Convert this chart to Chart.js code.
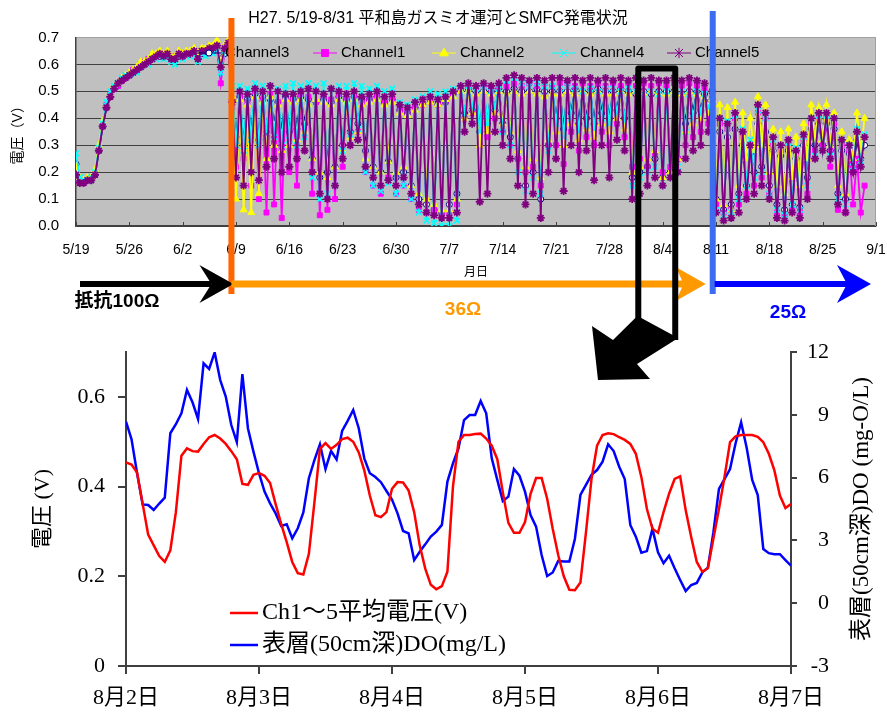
<!DOCTYPE html>
<html><head><meta charset="utf-8">
<script src="https://cdn.jsdelivr.net/npm/chart.js@4.4.1/dist/chart.umd.min.js"></script>
<style>
html,body{margin:0;padding:0;background:#fff;}
#wrap{position:relative;width:887px;height:715px;overflow:hidden;background:#fff;}
#topChart{position:absolute;left:0;top:0;z-index:2;pointer-events:none;}
#botChart{position:absolute;left:0;top:320px;z-index:1;}
</style></head>
<body><div id="wrap">
<canvas id="botChart" width="887" height="395"></canvas>
<canvas id="topChart" width="887" height="400"></canvas>
</div>
<script>
// ---------- TOP CHART DATA (2 samples per day, from 5/19) ----------
const topTitle = 'H27. 5/19-8/31 平和島ガスミオ運河とSMFC発電状況';
const topTickLabels = ['5/19','5/26','6/2','6/9','6/16','6/23','6/30','7/7','7/14','7/21','7/28','8/4','8/11','8/18','8/25','9/1'];
const samplesPerDay = 2;
const ch3 = [
0.23,0.17,0.17,0.17,0.17,0.19,0.28,0.37,0.44,0.48,0.51,0.52,0.54,0.55,
0.56,0.57,0.58,0.59,0.60,0.61,0.62,0.63,0.63,0.63,0.64,0.62,0.62,0.63,
0.63,0.64,0.64,0.65,0.62,0.64,0.65,0.65,0.65,0.66,0.62,0.64,0.66,0.47,
0.33,0.48,0.30,0.47,0.35,0.49,0.32,0.48,0.36,0.47,0.38,0.46,0.35,0.48,
0.35,0.47,0.36,0.48,0.38,0.47,0.25,0.46,0.18,0.47,0.20,0.46,0.22,0.48,
0.30,0.47,0.35,0.48,0.38,0.47,0.28,0.47,0.22,0.48,0.20,0.46,0.24,0.47,
0.18,0.43,0.20,0.42,0.15,0.44,0.10,0.45,0.08,0.46,0.06,0.45,0.05,0.46,
0.08,0.49,0.12,0.50,0.42,0.51,0.43,0.50,0.35,0.50,0.38,0.50,0.43,0.51,
0.38,0.50,0.33,0.51,0.25,0.50,0.15,0.50,0.20,0.51,0.10,0.50,0.30,0.50,
0.40,0.50,0.36,0.50,0.42,0.51,0.38,0.50,0.40,0.50,0.38,0.51,0.42,0.50,
0.40,0.50,0.43,0.51,0.40,0.50,0.18,0.49,0.20,0.50,0.22,0.49,0.25,0.50,
0.18,0.50,0.20,0.50,0.25,0.49,0.38,0.50,0.42,0.50,0.43,0.49,0.45,0.47,
0.10,0.35,0.06,0.33,0.08,0.36,0.12,0.30,0.15,0.27,0.20,0.38,0.22,0.35,
0.15,0.28,0.08,0.26,0.06,0.28,0.08,0.25,0.07,0.30,0.18,0.36,0.30,0.38,
0.30,0.38,0.28,0.36,0.12,0.28,0.10,0.27,0.22,0.32,0.25,0.30];
const ch1 = [
0.18,0.17,0.16,0.17,0.18,0.20,0.29,0.38,0.45,0.49,0.51,0.52,0.54,0.55,
0.56,0.58,0.58,0.60,0.61,0.62,0.63,0.63,0.64,0.64,0.63,0.63,0.62,0.64,
0.63,0.64,0.64,0.65,0.63,0.65,0.64,0.66,0.66,0.66,0.53,0.65,0.67,0.44,
0.22,0.48,0.25,0.46,0.15,0.50,0.10,0.47,0.05,0.49,0.08,0.46,0.03,0.47,
0.20,0.47,0.15,0.49,0.28,0.48,0.12,0.46,0.04,0.48,0.06,0.47,0.10,0.49,
0.22,0.47,0.30,0.48,0.35,0.46,0.20,0.47,0.15,0.48,0.12,0.46,0.18,0.47,
0.12,0.43,0.15,0.42,0.10,0.44,0.06,0.45,0.05,0.46,0.06,0.45,0.04,0.46,
0.05,0.49,0.08,0.51,0.40,0.52,0.42,0.51,0.30,0.52,0.33,0.51,0.40,0.52,
0.35,0.52,0.30,0.53,0.25,0.52,0.20,0.53,0.22,0.52,0.15,0.53,0.30,0.52,
0.30,0.53,0.23,0.53,0.35,0.52,0.28,0.53,0.33,0.52,0.30,0.53,0.35,0.52,
0.30,0.53,0.38,0.52,0.33,0.53,0.22,0.52,0.25,0.53,0.22,0.52,0.27,0.53,
0.20,0.52,0.22,0.53,0.25,0.52,0.30,0.53,0.33,0.52,0.35,0.51,0.38,0.48,
0.08,0.38,0.05,0.36,0.06,0.40,0.08,0.33,0.12,0.28,0.15,0.42,0.18,0.40,
0.12,0.30,0.05,0.28,0.04,0.30,0.06,0.27,0.05,0.32,0.12,0.38,0.28,0.40,
0.30,0.40,0.22,0.38,0.06,0.30,0.05,0.28,0.08,0.25,0.05,0.15];
const ch2 = [
0.22,0.18,0.17,0.18,0.18,0.21,0.30,0.39,0.45,0.49,0.52,0.53,0.55,0.56,
0.57,0.58,0.59,0.61,0.61,0.62,0.64,0.64,0.65,0.64,0.65,0.63,0.63,0.65,
0.64,0.65,0.65,0.66,0.64,0.66,0.66,0.67,0.67,0.69,0.60,0.67,0.69,0.48,
0.10,0.47,0.06,0.45,0.05,0.48,0.12,0.46,0.25,0.48,0.30,0.45,0.28,0.47,
0.30,0.46,0.32,0.47,0.35,0.45,0.25,0.47,0.20,0.46,0.18,0.45,0.22,0.47,
0.28,0.46,0.33,0.47,0.35,0.45,0.25,0.46,0.22,0.47,0.20,0.45,0.24,0.46,
0.20,0.42,0.22,0.41,0.15,0.43,0.12,0.45,0.10,0.46,0.08,0.45,0.06,0.47,
0.06,0.48,0.10,0.50,0.40,0.50,0.42,0.49,0.30,0.50,0.35,0.49,0.42,0.50,
0.38,0.49,0.35,0.50,0.28,0.49,0.22,0.50,0.25,0.49,0.18,0.48,0.32,0.49,
0.35,0.49,0.30,0.50,0.38,0.49,0.32,0.50,0.36,0.49,0.33,0.50,0.38,0.49,
0.35,0.49,0.40,0.50,0.36,0.49,0.20,0.50,0.22,0.49,0.25,0.50,0.28,0.49,
0.18,0.49,0.20,0.50,0.25,0.49,0.35,0.50,0.38,0.49,0.40,0.48,0.42,0.47,
0.10,0.45,0.08,0.44,0.06,0.46,0.15,0.42,0.25,0.40,0.28,0.48,0.30,0.45,
0.20,0.36,0.15,0.35,0.12,0.36,0.18,0.33,0.15,0.38,0.25,0.45,0.32,0.44,
0.32,0.45,0.30,0.42,0.15,0.35,0.12,0.32,0.25,0.42,0.28,0.40];
const ch4 = [
0.27,0.18,0.17,0.17,0.18,0.20,0.29,0.38,0.46,0.50,0.52,0.53,0.55,0.56,
0.56,0.57,0.57,0.59,0.60,0.60,0.62,0.62,0.63,0.62,0.63,0.61,0.60,0.63,
0.62,0.63,0.63,0.64,0.61,0.64,0.63,0.65,0.64,0.66,0.57,0.65,0.67,0.52,
0.30,0.52,0.28,0.51,0.32,0.53,0.30,0.52,0.35,0.52,0.33,0.51,0.30,0.52,
0.32,0.53,0.30,0.52,0.33,0.53,0.18,0.52,0.10,0.53,0.12,0.51,0.15,0.52,
0.28,0.52,0.34,0.53,0.36,0.52,0.20,0.51,0.15,0.52,0.13,0.50,0.16,0.51,
0.12,0.46,0.15,0.45,0.10,0.47,0.05,0.48,0.02,0.50,0.01,0.49,0.00,0.50,
0.00,0.51,0.02,0.52,0.42,0.52,0.44,0.51,0.35,0.52,0.38,0.50,0.44,0.51,
0.35,0.54,0.30,0.55,0.20,0.53,0.13,0.52,0.18,0.53,0.12,0.52,0.28,0.52,
0.38,0.51,0.33,0.52,0.40,0.51,0.35,0.50,0.38,0.51,0.36,0.50,0.40,0.51,
0.38,0.51,0.42,0.50,0.40,0.51,0.15,0.50,0.18,0.49,0.20,0.50,0.22,0.49,
0.15,0.50,0.18,0.49,0.22,0.50,0.35,0.49,0.40,0.50,0.42,0.49,0.44,0.48,
0.06,0.40,0.04,0.39,0.05,0.41,0.10,0.36,0.15,0.32,0.18,0.43,0.20,0.40,
0.12,0.32,0.06,0.30,0.04,0.31,0.08,0.29,0.06,0.33,0.15,0.40,0.26,0.41,
0.28,0.41,0.26,0.40,0.10,0.32,0.08,0.30,0.22,0.36,0.24,0.34];
const ch5 = [
0.19,0.16,0.16,0.17,0.17,0.19,0.28,0.37,0.44,0.48,0.51,0.53,0.54,0.55,
0.56,0.57,0.58,0.59,0.60,0.61,0.62,0.63,0.64,0.63,0.64,0.62,0.62,0.64,
0.63,0.64,0.64,0.65,0.62,0.65,0.65,0.66,0.66,0.67,0.59,0.66,0.68,0.46,
0.18,0.50,0.15,0.49,0.20,0.51,0.17,0.50,0.22,0.52,0.25,0.50,0.20,0.49,
0.22,0.49,0.25,0.50,0.28,0.51,0.20,0.50,0.12,0.49,0.10,0.51,0.15,0.50,
0.25,0.49,0.30,0.50,0.32,0.48,0.22,0.49,0.18,0.50,0.15,0.48,0.17,0.49,
0.15,0.45,0.18,0.44,0.12,0.46,0.08,0.47,0.05,0.48,0.04,0.47,0.03,0.48,
0.03,0.50,0.05,0.52,0.35,0.53,0.38,0.52,0.09,0.53,0.12,0.52,0.35,0.53,
0.30,0.55,0.25,0.56,0.15,0.55,0.08,0.54,0.12,0.55,0.03,0.54,0.20,0.55,
0.25,0.55,0.13,0.54,0.30,0.55,0.20,0.54,0.28,0.55,0.17,0.54,0.30,0.55,
0.18,0.54,0.32,0.55,0.28,0.54,0.10,0.55,0.12,0.54,0.15,0.55,0.18,0.54,
0.15,0.54,0.18,0.55,0.20,0.54,0.25,0.55,0.28,0.54,0.30,0.53,0.35,0.50,
0.05,0.40,0.02,0.38,0.03,0.42,0.05,0.35,0.10,0.30,0.12,0.45,0.15,0.42,
0.10,0.33,0.03,0.30,0.02,0.32,0.05,0.28,0.03,0.34,0.10,0.40,0.25,0.42,
0.28,0.42,0.25,0.40,0.08,0.32,0.05,0.30,0.20,0.35,0.22,0.33];
// resistance changes (days after 5/19) and the zoomed window (days)
const resistanceChangeDays = [20.4, 83.57];
const resistanceLabels = ['抵抗100Ω', '36Ω', '25Ω'];
const zoomWindowDays = [73.8, 78.65];

// ---------- BOTTOM CHART DATA (hourly, 8/2 0:00 - 8/7 0:00) ----------
const botTickLabels = ['8月2日','8月3日','8月4日','8月5日','8月6日','8月7日'];
const avgVoltage = [
0.454,0.449,0.431,0.362,0.293,0.269,0.245,0.232,0.258,0.343,0.469,0.485,
0.479,0.478,0.495,0.510,0.515,0.507,0.495,0.479,0.461,0.406,0.404,0.426,
0.430,0.424,0.408,0.361,0.317,0.276,0.232,0.207,0.204,0.250,0.365,0.484,
0.497,0.484,0.493,0.506,0.509,0.500,0.476,0.436,0.380,0.336,0.332,0.343,
0.395,0.410,0.409,0.391,0.343,0.269,0.217,0.181,0.171,0.178,0.210,0.400,
0.500,0.515,0.515,0.517,0.518,0.507,0.491,0.461,0.387,0.319,0.297,0.297,
0.321,0.384,0.419,0.419,0.373,0.306,0.247,0.200,0.170,0.169,0.186,0.298,
0.417,0.491,0.515,0.519,0.517,0.510,0.504,0.495,0.473,0.421,0.350,0.306,
0.297,0.343,0.384,0.417,0.423,0.347,0.287,0.232,0.210,0.218,0.284,0.350,
0.421,0.499,0.512,0.515,0.515,0.515,0.511,0.499,0.473,0.436,0.380,0.352,
0.361];
const surfaceDO = [
8.67,7.83,6.21,4.72,4.69,4.45,4.76,5.04,8.12,8.55,9.07,10.19,
9.60,8.80,11.46,11.19,11.98,10.66,9.87,8.51,7.69,10.94,8.36,7.24,
6.21,5.33,4.77,4.29,3.69,3.77,3.10,3.58,4.34,5.97,6.84,7.59,
6.41,7.27,6.87,8.23,8.71,9.23,8.36,6.92,6.21,6.03,5.78,5.36,
4.95,4.29,3.45,3.34,2.06,2.46,2.81,3.18,3.42,3.74,5.81,6.68,
7.40,8.75,8.99,8.99,9.66,9.07,6.92,5.89,4.88,5.09,6.41,6.09,
5.33,4.21,3.66,2.30,1.30,1.47,2.02,1.99,1.99,3.07,5.17,5.65,
6.13,6.36,6.76,7.59,7.27,6.52,5.93,3.74,3.18,2.41,2.49,3.55,
2.43,1.91,2.27,1.67,1.11,0.58,0.87,0.97,1.47,1.70,3.39,5.46,
5.93,6.41,7.64,8.64,7.43,5.89,5.17,2.59,2.39,2.34,2.34,2.06,
1.79];
const botSeriesNames = ['Ch1～5平均電圧(V)', '表層(50cm深)DO(mg/L)'];
const botLeftTitle = '電圧 (V)';
const botRightTitle = '表層(50cm深)DO (mg-O/L)';

// ---------- helpers ----------
const SANS = "'Liberation Sans', Arial, 'Noto Sans CJK JP', sans-serif";
const SERIF = "'Liberation Serif', 'Times New Roman', 'Noto Sans CJK JP', serif";
Chart.defaults.font.family = SANS;
Chart.defaults.color = '#000';

function toXY(arr, step) { return arr.map((v, i) => ({x: i / step, y: v})); }

function marker(ctx, style, x, y, r, stroke, fill) {
  ctx.save();
  ctx.strokeStyle = stroke; ctx.fillStyle = fill; ctx.lineWidth = 1;
  ctx.beginPath();
  if (style === 'circle') { ctx.arc(x, y, r, 0, Math.PI * 2); ctx.fill(); ctx.stroke(); }
  else if (style === 'rect') { ctx.rect(x - r, y - r, 2 * r, 2 * r); ctx.fill(); ctx.stroke(); }
  else if (style === 'triangle') { ctx.moveTo(x, y - r * 1.2); ctx.lineTo(x + r * 1.1, y + r * 0.7); ctx.lineTo(x - r * 1.1, y + r * 0.7); ctx.closePath(); ctx.fill(); ctx.stroke(); }
  else if (style === 'crossRot') { ctx.moveTo(x - r, y - r); ctx.lineTo(x + r, y + r); ctx.moveTo(x + r, y - r); ctx.lineTo(x - r, y + r); ctx.stroke(); }
  else if (style === 'star') { ctx.moveTo(x - r, y - r); ctx.lineTo(x + r, y + r); ctx.moveTo(x + r, y - r); ctx.lineTo(x - r, y + r); ctx.moveTo(x, y - r * 1.3); ctx.lineTo(x, y + r * 1.3); ctx.stroke(); }
  ctx.restore();
}

function arrow(ctx, x0, x1, y, w, headLen, halfW, notch, color) {
  ctx.save();
  ctx.fillStyle = color;
  ctx.fillRect(x0, y - w / 2, (x1 - headLen + notch) - x0, w);
  ctx.beginPath();
  ctx.moveTo(x1, y);
  ctx.lineTo(x1 - headLen, y - halfW);
  ctx.lineTo(x1 - headLen + notch, y);
  ctx.lineTo(x1 - headLen, y + halfW);
  ctx.closePath(); ctx.fill();
  ctx.restore();
}

const topSeries = [
  {label: 'Channel3', data: ch3, color: '#000080', fill: '#ffffff', style: 'circle', r: 3, order: 5},
  {label: 'Channel1', data: ch1, color: '#ff00ff', fill: '#ff00ff', style: 'rect', r: 3.5, order: 4},
  {label: 'Channel2', data: ch2, color: '#ffff00', fill: '#ffff00', style: 'triangle', r: 4, order: 3},
  {label: 'Channel4', data: ch4, color: '#00ffff', fill: '#00ffff', style: 'crossRot', r: 4, order: 2},
  {label: 'Channel5', data: ch5, color: '#800080', fill: '#800080', style: 'star', r: 4, order: 1}
];

const topDecor = {
  id: 'topDecor',
  beforeDraw(chart) {
    const {ctx, chartArea: a} = chart;
    ctx.save(); ctx.fillStyle = '#c0c0c0';
    ctx.fillRect(a.left, a.top, a.right - a.left, a.bottom - a.top);
    ctx.restore();
  },
  afterDraw(chart) {
    const {ctx, chartArea: a} = chart;
    const xs = chart.scales.x;
    ctx.save();
    ctx.strokeStyle = '#a0a0a0'; ctx.lineWidth = 1;
    ctx.beginPath(); ctx.moveTo(a.right - 0.5, a.top); ctx.lineTo(a.right - 0.5, a.bottom); ctx.stroke();
    ctx.strokeStyle = '#404040';
    xs.ticks.forEach(t => {
      const px = Math.round(xs.getPixelForValue(t.value)) + 0.5;
      ctx.beginPath(); ctx.moveTo(px, a.bottom); ctx.lineTo(px, a.bottom - 4); ctx.stroke();
    });
    // legend
    const legX = [197, 313, 432, 552, 667];
    const ly = 53;
    ctx.font = '15px ' + SANS; ctx.textBaseline = 'middle'; ctx.textAlign = 'left';
    topSeries.forEach((s, i) => {
      const x = legX[i];
      ctx.strokeStyle = s.color; ctx.lineWidth = 1;
      ctx.beginPath(); ctx.moveTo(x, ly); ctx.lineTo(x + 24, ly); ctx.stroke();
      marker(ctx, s.style, x + 12, ly, s.r, s.color, s.fill);
      ctx.fillStyle = '#000';
      ctx.fillText(s.label, x + 28, ly);
    });
    // resistance lines
    const xo = xs.getPixelForValue(resistanceChangeDays[0]);
    const xb = xs.getPixelForValue(resistanceChangeDays[1]);
    ctx.fillStyle = '#ff6600'; ctx.fillRect(xo - 3, 18, 6, 276);
    ctx.fillStyle = '#3c6cf0'; ctx.fillRect(xb - 3, 11, 6, 283);
    // arrows
    arrow(ctx, 80, xo + 2, 284, 6, 34, 19, 12, '#000000');
    arrow(ctx, xo, xb - 7, 284, 7, 30, 17, 8, '#ff9900');
    arrow(ctx, xb + 2, 871, 284, 6, 34, 19, 10, '#0000ff');
    ctx.textAlign = 'center'; ctx.textBaseline = 'middle';
    ctx.font = 'bold 19px ' + SANS;
    ctx.fillStyle = '#000'; ctx.fillText(resistanceLabels[0], 117, 302);
    ctx.fillStyle = '#ff9900'; ctx.fillText(resistanceLabels[1], 463, 310);
    ctx.fillStyle = '#0000ff'; ctx.fillText(resistanceLabels[2], 788, 313);
    // zoom window box + arrow to lower chart
    const bl = xs.getPixelForValue(zoomWindowDays[0]);
    const br = xs.getPixelForValue(zoomWindowDays[1]);
    ctx.strokeStyle = '#000'; ctx.lineWidth = 6; ctx.lineJoin = 'round';
    ctx.beginPath(); ctx.moveTo(bl, 322); ctx.lineTo(bl, 68.5); ctx.lineTo(br, 68.5); ctx.lineTo(br, 340); ctx.stroke();
    ctx.fillStyle = '#000';
    ctx.beginPath();
    ctx.moveTo(br + 3, 338); ctx.lineTo(637, 364); ctx.lineTo(650, 379); ctx.lineTo(598, 380);
    ctx.lineTo(592, 326); ctx.lineTo(613, 340); ctx.lineTo(bl - 3, 318); ctx.lineTo(bl + 3, 318);
    ctx.closePath(); ctx.fill();
    ctx.restore();
  }
};

new Chart(document.getElementById('topChart'), {
  type: 'line',
  data: {
    datasets: topSeries.map(s => ({
      label: s.label, data: toXY(s.data, samplesPerDay), order: s.order,
      borderColor: s.color, backgroundColor: s.fill, borderWidth: 1.8,
      pointStyle: s.style, pointRadius: s.r, pointBorderColor: s.color, pointBackgroundColor: s.fill,
      pointBorderWidth: (s.style === 'star' || s.style === 'crossRot') ? 1.8 : 1, tension: 0
    }))
  },
  options: {
    responsive: false, animation: false, events: [],
    layout: {padding: {left: 0, right: 11, top: 0, bottom: 114}},
    plugins: {
      legend: {display: false}, tooltip: {enabled: false},
      title: {display: true, text: topTitle, color: '#000', font: {size: 16, family: SANS, weight: 'normal'}, padding: {top: 9, bottom: 9.3}}
    },
    scales: {
      x: {
        type: 'linear', min: 0, max: 105,
        ticks: {stepSize: 7, autoSkip: false, maxRotation: 0, padding: 16, color: '#000', font: {size: 14},
                callback: v => topTickLabels[Math.round(v / 7)]},
        grid: {display: false, drawTicks: false},
        border: {display: true, color: '#404040', width: 1.5},
        title: {display: true, text: '月日', font: {size: 12}, color: '#000', padding: {top: 0, bottom: 6}},
        afterFit: s => { s.height = 60; s.paddingLeft = 0; s.paddingRight = 0; }
      },
      y: {
        min: 0, max: 0.7,
        ticks: {stepSize: 0.1, padding: 17, color: '#000', font: {size: 15}, callback: v => v.toFixed(1)},
        grid: {drawTicks: false, color: c => (c.tick && c.tick.value > 0.69) ? '#a0a0a0' : '#404040', lineWidth: 1},
        border: {display: true, color: '#404040', width: 1.5},
        title: {display: true, text: '電圧（V）', font: {size: 14}, color: '#000', padding: {top: 10, bottom: 0}},
        afterFit: s => { s.width = 76; }
      }
    }
  },
  plugins: [topDecor]
});

// ---------- bottom chart ----------
const botColors = ['#ff0000', '#0000ff'];
const botDecor = {
  id: 'botDecor',
  afterDraw(chart) {
    const ctx = chart.ctx;
    ctx.save();
    ctx.font = '24px ' + SERIF; ctx.textBaseline = 'middle'; ctx.textAlign = 'left';
    const ys = [293, 325];
    botSeriesNames.forEach((n, i) => {
      ctx.strokeStyle = botColors[i]; ctx.lineWidth = 2.5;
      ctx.beginPath(); ctx.moveTo(230, ys[i]); ctx.lineTo(258, ys[i]); ctx.stroke();
      ctx.fillStyle = '#000'; ctx.fillText(n, 262, ys[i]);
    });
    ctx.translate(862, 189); ctx.rotate(-Math.PI / 2);
    ctx.font = '23px ' + SERIF; ctx.textAlign = 'center'; ctx.fillStyle = '#000';
    ctx.fillText(botRightTitle, 0, 0);
    ctx.restore();
  }
};

const axisCol = '#404040';
new Chart(document.getElementById('botChart'), {
  type: 'line',
  data: {
    datasets: [
      {label: botSeriesNames[0], data: toXY(avgVoltage, 1), yAxisID: 'y', borderColor: botColors[0], borderWidth: 2.5, pointRadius: 0, tension: 0},
      {label: botSeriesNames[1], data: toXY(surfaceDO, 1), yAxisID: 'y1', borderColor: botColors[1], borderWidth: 2.5, pointRadius: 0, tension: 0}
    ]
  },
  options: {
    responsive: false, animation: false, events: [],
    layout: {padding: {left: 0, right: 58, top: 32, bottom: 0}},
    plugins: {legend: {display: false}, tooltip: {enabled: false}},
    scales: {
      x: {
        type: 'linear', min: 0, max: 120,
        ticks: {stepSize: 24, autoSkip: false, maxRotation: 0, padding: 11, color: '#000', font: {size: 22, family: SERIF},
                callback: v => botTickLabels[Math.round(v / 24)]},
        grid: {drawOnChartArea: false, drawTicks: true, tickLength: 8, color: axisCol, lineWidth: 2},
        border: {display: true, color: axisCol, width: 2},
        afterFit: s => { s.height = 49; }
      },
      y: {
        position: 'left', min: 0, max: 0.7,
        ticks: {stepSize: 0.2, padding: 13, color: '#000', font: {size: 22, family: SERIF}, callback: v => v === 0 ? '0' : v.toFixed(1)},
        afterBuildTicks: s => { s.ticks = s.ticks.filter(t => t.value < 0.65); },
        grid: {drawOnChartArea: false, drawTicks: true, tickLength: 8, color: axisCol, lineWidth: 2},
        border: {display: true, color: axisCol, width: 2},
        title: {display: true, text: botLeftTitle, color: '#000', font: {size: 22, family: SERIF}, padding: {top: 30, bottom: 0}},
        afterFit: s => { s.width = 126; }
      },
      y1: {
        position: 'right', min: -3, max: 12,
        ticks: {stepSize: 3, padding: 7, crossAlign: 'far', color: '#000', font: {size: 22, family: SERIF}},
        grid: {drawOnChartArea: false, drawTicks: true, tickLength: 6, color: axisCol, lineWidth: 2},
        border: {display: true, color: axisCol, width: 2},
        afterFit: s => { s.width = 38; }
      }
    }
  },
  plugins: [botDecor]
});
</script>
</body></html>
